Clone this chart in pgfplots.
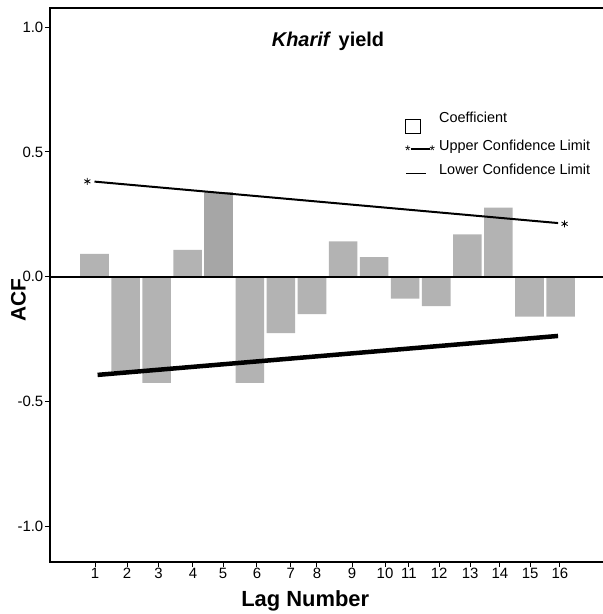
\documentclass[border=0pt]{standalone}
\usepackage{pgfplots}
\pgfplotsset{compat=1.18}
\usepackage{fontspec}
\setmainfont{Liberation Sans}
\definecolor{barg}{HTML}{B3B3B3}
\definecolor{bard}{HTML}{A6A6A6}
\pgfplotstableread{
x y
1 0.092
2 -0.377
3 -0.425
4 0.108
6 -0.425
7 -0.226
8 -0.150
9 0.142
10 0.079
11 -0.088
12 -0.118
13 0.170
14 0.277
15 -0.160
16 -0.160
}\acfdata
\pgfplotstableread{
x y
5 0.338
}\acffive
\newcommand{\legstar}{\raisebox{-5bp}{\fontsize{14}{14}\selectfont *}}
\begin{document}
\begin{tikzpicture}
\useasboundingbox (-50bp,-52.3bp) rectangle (553bp,561.7bp);
\begin{axis}[
  at={(0,0)}, anchor=south west,
  scale only axis, width=556bp, height=553.4bp,
  xmin=-0.432, xmax=17.463, ymin=-1.141, ymax=1.075,
  axis line style={line width=2bp},
  tick pos=left, tick align=outside,
  major tick length=5bp,
  every tick/.style={black, line width=1bp},
  xtick={1.02,2.05,3.06,4.17,5.14,6.23,7.32,8.16,9.29,10.35,11.12,12.09,13.09,14.05,15.02,15.98},
  xticklabels={1,2,3,4,5,6,7,8,9,10,11,12,13,14,15,16},
  ytick={-1,-0.5,0,0.5,1},
  yticklabels={-1.0,-0.5,0.0,0.5,1.0},
  ticklabel style={font=\fontsize{15}{18}\selectfont},
  yticklabel style={inner sep=1.5bp},
  xticklabel style={inner sep=1bp},
  xlabel={Lag Number},
  xlabel style={font=\fontsize{22}{26}\bfseries\selectfont, at={(axis description cs:0.459,-0.071)}, anchor=center},
  ylabel={ACF},
  ylabel style={font=\fontsize{21}{24}\bfseries\selectfont, at={(axis description cs:-0.057,0.473)}, anchor=center},
  title={\textit{Kharif}\hspace{2bp} yield},
  title style={font=\fontsize{20}{24}\bfseries\selectfont, at={(axis description cs:0.5,0.93)}, anchor=center},
]
\addplot[ybar, bar width=0.92, bar shift=0pt, fill=barg, draw=none] table[x=x,y=y] {\acfdata};
\addplot[ybar, bar width=0.92, bar shift=0pt, fill=bard, draw=none] table[x=x,y=y] {\acffive};
\addplot[black, line width=2.5bp] coordinates {(-1,0) (18,0)};
\addplot[black, line width=2bp] coordinates {(1.0,0.381) (15.92,0.215)};
\addplot[only marks, mark=asterisk, mark size=3.5bp, mark options={line width=0.8bp, black}] coordinates {(0.77,0.382) (16.13,0.212)};
\addplot[black, line width=4.5bp] coordinates {(1.1,-0.393) (15.92,-0.237)};
\node[anchor=base west, inner sep=0pt, font=\fontsize{14.5}{24}\selectfont, align=left]
  at (rel axis cs:0.6385,0.7941)
  {\begin{tabular}[t]{@{}l@{\hspace{3bp}}l@{}}
   \makebox[31bp][l]{\raisebox{-11bp}{\setlength\fboxrule{0.8bp}\setlength\fboxsep{0pt}\fbox{\rule{0pt}{13.4bp}\hspace{14bp}}}} & Coefficient\\
   \makebox[31bp][l]{\legstar\rule[1bp]{19bp}{2bp}\legstar} & Upper Confidence Limit\\
   \makebox[31bp][l]{\hspace{1bp}\rule[0.5bp]{20bp}{1bp}} & Lower Confidence Limit
  \end{tabular}};
\end{axis}
\end{tikzpicture}
\end{document}
